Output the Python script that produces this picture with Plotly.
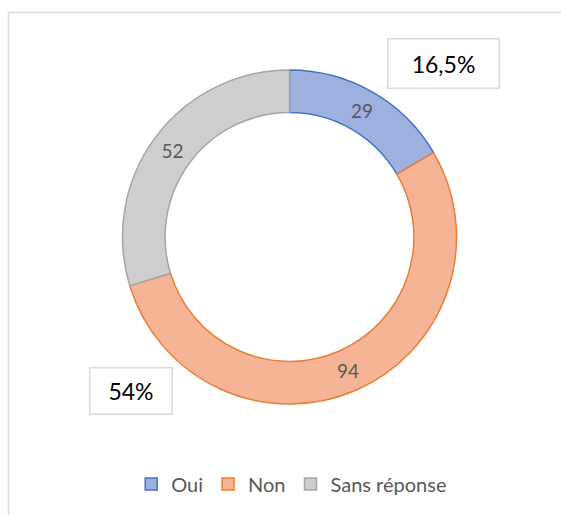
import plotly.graph_objects as go

# Survey answers
categories = ["Oui", "Non", "Sans réponse"]
counts = [29, 94, 52]
fill_colors = ["#9db0e0", "#f6b496", "#cecece"]
edge_colors = ["#4472c4", "#ed7d31", "#a5a5a5"]

# Percentage callouts shown in boxes
callout_texts = ["16,5%", "54%"]

W, H = 561, 515

fig = go.Figure()
fig.add_trace(go.Pie(
    labels=categories,
    values=counts,
    hole=0.745,
    sort=False,
    direction="clockwise",
    rotation=0,
    marker=dict(colors=fill_colors, line=dict(color=edge_colors, width=1.5)),
    textinfo="value",
    textposition="inside",
    insidetextorientation="horizontal",
    textfont=dict(family="Lato", size=19, color="#595959"),
    domain=dict(x=[122 / W, 457 / W], y=[1 - 404 / H, 1 - 70 / H]),
    hoverinfo="label+value+percent",
))

def px_x(v):
    return v / W

def px_y(v):
    return 1 - v / H

annotations = [
    dict(text=callout_texts[0], x=px_x(443), y=px_y(64), width=108, height=46),
    dict(text=callout_texts[1], x=px_x(130.5), y=px_y(391), width=79, height=43),
]
for a in annotations:
    a.update(xref="paper", yref="paper", xanchor="center", yanchor="middle",
             showarrow=False, bordercolor="#d9d9d9", borderwidth=1.5,
             bgcolor="white", font=dict(family="Lato", size=23, color="#000000"))

# Chart area frame (top and left edges visible)
shapes = [
    dict(type="line", xref="paper", yref="paper",
         x0=px_x(8.5), y0=px_y(12.5), x1=1.0, y1=px_y(12.5),
         line=dict(color="#d9d9d9", width=1.5)),
    dict(type="line", xref="paper", yref="paper",
         x0=px_x(8.5), y0=px_y(12.5), x1=px_x(8.5), y1=0.0,
         line=dict(color="#d9d9d9", width=1.5)),
]

fig.update_layout(
    width=W, height=H,
    margin=dict(l=0, r=0, t=0, b=0),
    paper_bgcolor="white",
    plot_bgcolor="white",
    annotations=annotations,
    shapes=shapes,
    showlegend=True,
    legend=dict(orientation="h", x=0.52, xanchor="center", y=px_y(484), yanchor="middle",
                font=dict(family="Lato", size=20, color="#595959"),
                itemwidth=30, tracegroupgap=0),
)

fig.write_html("out.html")
